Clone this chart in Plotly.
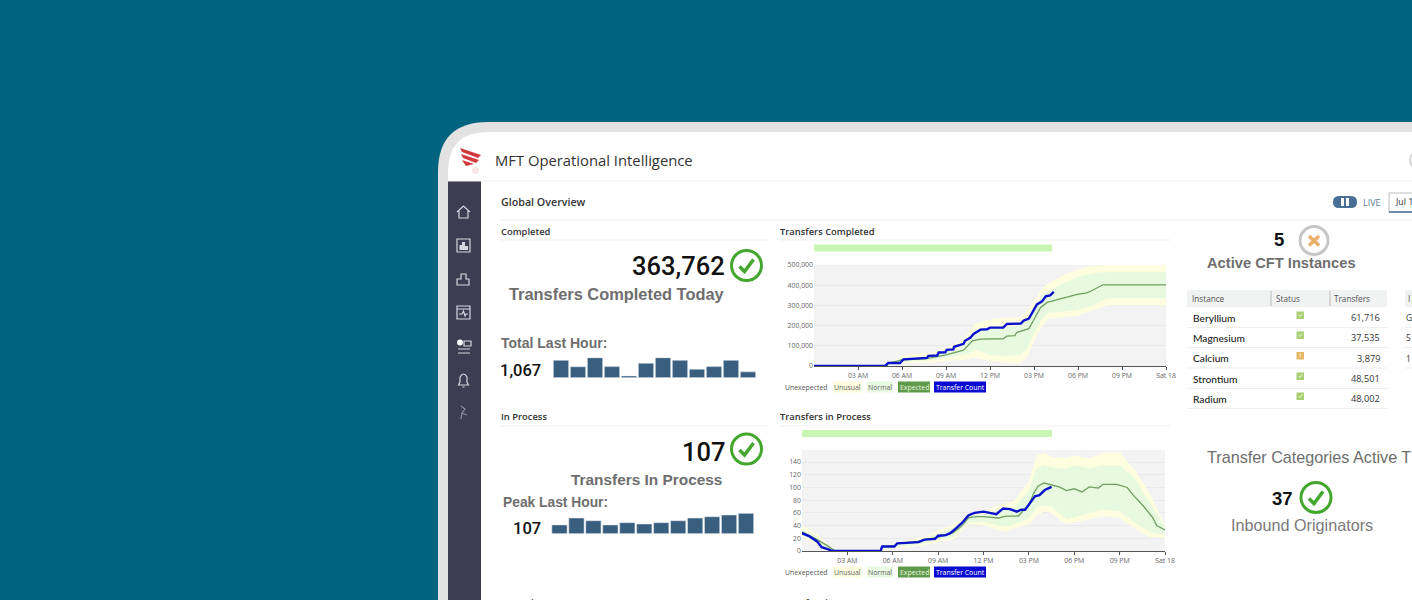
"""MFT Operational Intelligence dashboard, shown in a tablet frame on a teal page."""

import plotly.graph_objects as go

WIDTH = 1412
HEIGHT = 600

TEAL = "#00637f"
FRAME = "#e2e2e2"
SIDEBAR = "#3d3c52"
GREY_TEXT = "#6e6e6e"
DARK_TEXT = "#333333"
CHECK_GREEN = "#43a72e"
BAR_BLUE = "#3a5f7e"
COUNT_BLUE = "#0a12cc"
EXPECTED_GREEN = "#6f9f60"
NORMAL_FILL = "#e7f9df"
UNUSUAL_FILL = "#fefde0"

HOUR_TICKS = [3, 6, 9, 12, 15, 18, 21, 24]
HOUR_LABELS = ["03 AM", "06 AM", "09 AM", "12 PM", "03 PM", "06 PM", "09 PM", "Sat 18"]

# Transfers completed
COMPLETED_COUNT_HOURS = [0, 4.84, 5.06, 5.86, 6.1, 7, 7.7, 7.8, 8.4, 8.5, 8.95, 9.05, 9.5, 9.55, 10, 10.2, 10.3,
                         10.65, 10.9, 11.35, 11.8, 12, 12.9, 13.15, 14.1, 14.3, 14.65, 14.9, 15.2, 15.55, 15.8,
                         16.1, 16.35]
COMPLETED_COUNT = [0, 0, 15000, 15000, 33000, 36000, 40000, 50000, 52000, 67000, 68000, 80000, 82000, 95000,
                   105000, 110000, 125000, 140000, 160000, 180000, 182000, 190000, 190000, 208000, 210000,
                   225000, 235000, 265000, 305000, 320000, 345000, 350000, 367000]
COMPLETED_EXPECTED_HOURS = [0, 4.95, 5.1, 6, 7.6, 8.4, 9, 10.2, 10.5, 10.8, 11.35, 12.9, 13.15, 13.7, 13.8,
                            14.65, 15, 15.45, 15.9, 16.6, 17.3, 17.95, 18.6, 19, 19.7, 24]
COMPLETED_EXPECTED = [0, 0, 15000, 30000, 35000, 47000, 55000, 78000, 100000, 125000, 133000, 135000, 148000,
                      150000, 165000, 185000, 230000, 290000, 315000, 330000, 342000, 355000, 362000, 375000,
                      402000, 402000]
COMPLETED_BAND_HOURS = [4.9, 6, 8, 9, 10, 10.5, 11, 12, 13, 14, 14.5, 15, 15.5, 16, 17, 18, 19, 20, 24]
COMPLETED_NORMAL_HIGH = [0, 40000, 50000, 70000, 90000, 120000, 165000, 185000, 190000, 200000, 220000, 280000,
                         350000, 370000, 410000, 440000, 460000, 465000, 465000]
COMPLETED_NORMAL_LOW = [0, 22000, 28000, 40000, 55000, 60000, 80000, 55000, 50000, 55000, 80000, 160000,
                        230000, 265000, 268000, 280000, 300000, 335000, 335000]
COMPLETED_UNUSUAL_HIGH = [0, 55000, 65000, 90000, 120000, 160000, 210000, 230000, 240000, 240000, 270000,
                          320000, 380000, 410000, 450000, 480000, 495000, 500000, 500000]
COMPLETED_UNUSUAL_LOW = [0, 15000, 15000, 25000, 30000, 35000, 40000, 25000, 15000, 10000, 40000, 120000,
                         190000, 235000, 240000, 250000, 275000, 300000, 300000]

# Transfers in process
PROCESS_COUNT_HOURS = [0, 0.5, 1, 1.3, 1.7, 2, 5.2, 5.3, 6.1, 6.3, 7.7, 8.1, 8.8, 9, 9.5, 9.8, 10.2, 10.65, 11,
                       11.4, 12, 12.85, 13.3, 13.75, 14.2, 14.5, 14.75, 15.05, 15.4, 15.7, 16.05, 16.5]
PROCESS_COUNT = [28, 23, 15, 6, 3, 0, 0, 7, 7, 12, 14, 18, 19, 24, 25, 28, 36, 46, 56, 60, 62, 58, 67, 66, 62,
                 65, 65, 75, 86, 88, 96, 101]
PROCESS_EXPECTED_HOURS = [0, 1, 1.7, 2.2, 5.2, 5.3, 6.1, 6.3, 7.7, 8, 9, 10, 10.5, 11, 11.5, 12, 13, 13.5, 14.3,
                          14.7, 15, 15.3, 15.6, 16, 16.5, 17, 17.5, 18, 18.5, 19, 19.6, 19.9, 20.8, 21.5, 21.9,
                          22.6, 23.2, 23.45, 24]
PROCESS_EXPECTED = [30, 18, 8, 0, 0, 7, 8, 12, 15, 17, 22, 29, 38, 52, 54, 54, 52, 55, 55, 65, 73, 90, 102, 107,
                    104, 101, 95, 98, 93, 101, 99, 105, 105, 100, 88, 70, 52, 40, 33]
PROCESS_BAND_HOURS = [0, 1, 2, 2.3, 5.2, 6, 8, 9, 10, 11, 12, 13, 13.5, 14, 15, 15.5, 16, 16.5, 17, 17.5, 18, 19,
                      20, 21, 22, 23, 24]
PROCESS_NORMAL_HIGH = [34, 22, 2, 0, 0, 10, 19, 28, 37, 54, 58, 65, 66, 68, 95, 130, 135, 132, 130, 130, 135,
                       130, 135, 135, 115, 75, 38]
PROCESS_NORMAL_LOW = [24, 12, 0, 0, 0, 5, 12, 17, 22, 45, 46, 40, 38, 42, 52, 68, 72, 70, 60, 50, 53, 60, 65,
                      62, 45, 30, 25]
PROCESS_UNUSUAL_HIGH = [40, 27, 3, 0, 0, 12, 22, 32, 42, 56, 62, 72, 75, 78, 110, 150, 155, 148, 147, 146, 150,
                        146, 155, 155, 128, 90, 40]
PROCESS_UNUSUAL_LOW = [22, 10, 0, 0, 0, 3, 9, 14, 18, 42, 40, 33, 30, 35, 42, 55, 62, 60, 50, 42, 45, 50, 55,
                       52, 35, 22, 20]

# Five minute bars beside the headline numbers
LAST_HOUR_TOTALS = [119, 75, 137, 76, 12, 99, 137, 119, 58, 76, 119, 40]
LAST_HOUR_PEAKS = [46, 82, 68, 46, 58, 51, 58, 68, 82, 89, 98, 107]

# Instance table
INSTANCES = ["Beryllium", "Magnesium", "Calcium", "Strontium", "Radium"]
INSTANCE_OK = [True, True, False, True, True]
INSTANCE_TRANSFERS = ["61,716", "37,535", "3,879", "48,501", "48,002"]
SECOND_TABLE_CELLS = ["G", "5", "1"]

LEGEND_CHIPS = [
    ("Unexepected", 785, 827, None, "#555555"),
    ("Unusual", 833, 862, "#fdfcdf", "#666666"),
    ("Normal", 867, 893, "#e9f8e2", "#666666"),
    ("Expected", 898, 930, "#5f9a4a", "#e6f4df"),
    ("Transfer Count", 934, 986, "#0a0ad0", "#ffffff"),
]

shapes = []
annotations = []


def label(text, x, y, size, color=DARK_TEXT, anchor="left", family="Open Sans", weight=400, vertical="middle"):
    annotations.append(
        dict(
            text=text,
            x=x - 1 if anchor == "left" else x,
            y=y,
            xref="x",
            yref="y",
            xanchor=anchor,
            yanchor=vertical,
            showarrow=False,
            borderpad=0,
            font=dict(family=family, size=size, color=color, weight=weight),
        )
    )


def rect(x0, y0, x1, y1, fill, line=None, line_width=1):
    shapes.append(
        dict(
            type="rect",
            xref="x",
            yref="y",
            x0=x0,
            y0=y0,
            x1=x1,
            y1=y1,
            fillcolor=fill,
            line=dict(color=line, width=line_width if line else 0),
            layer="below",
        )
    )


def rule(x0, y0, x1, y1, color="#efefef", width=1):
    shapes.append(
        dict(type="line", xref="x", yref="y", x0=x0, y0=y0, x1=x1, y1=y1,
             line=dict(color=color, width=width), layer="below")
    )


def ring(cx, cy, r, color, width=3):
    shapes.append(
        dict(type="circle", xref="x", yref="y", x0=cx - r, y0=cy - r, x1=cx + r, y1=cy + r,
             fillcolor="#ffffff", line=dict(color=color, width=width), layer="below")
    )


def path(d, line=None, fill="rgba(0,0,0,0)", width=1.2):
    shapes.append(
        dict(type="path", xref="x", yref="y", path=d, fillcolor=fill,
             line=dict(color=line, width=width if line else 0), layer="below")
    )


def check_icon(cx, cy, r=15):
    ring(cx, cy, r, CHECK_GREEN)
    path(f"M {cx - 7} {cy + 1} L {cx - 2} {cy + 6} L {cx + 7} {cy - 6}", line=CHECK_GREEN, width=3.5)


def x_domain(left, right):
    return [left / WIDTH, right / WIDTH]


def y_domain(top, bottom):
    return [1 - bottom / HEIGHT, 1 - top / HEIGHT]


def draw_frame():
    path("M 438 600 L 438 172 Q 438 122 488 122 L 1412 122 L 1412 600 Z", fill=FRAME)
    path("M 448 600 L 448 172 Q 448 132 488 132 L 1412 132 L 1412 600 Z", fill="#ffffff")
    rect(448, 181, 481, 600, SIDEBAR)
    rule(448, 181, 1412, 181, "#eeeeee")
    rule(500, 220, 1412, 220, "#eeeeee")

    # Red logo mark
    for d in ["M 460 148 L 481 155 L 478 158 L 462 152 Z",
              "M 461 154 L 479 160 L 476 163 L 463 158 Z",
              "M 462 160 L 474 164 L 466 166 Z"]:
        path(d, fill="#d2393c")
    shapes.append(dict(type="circle", xref="x", yref="y", x0=472, y0=167, x1=479, y1=174,
                       fillcolor="#f8e6e6", line=dict(width=0), layer="below"))

    # Sidebar icons
    icon = "#d6d6de"
    path("M 457 212 L 463.5 206 L 470 212 M 459 211 L 459 218 L 468 218 L 468 211", line=icon)
    path("M 457 239 L 470 239 L 470 252 L 457 252 Z", line=icon)
    path("M 459.5 250 L 459.5 245 L 462 245 L 462 242 L 465 242 L 465 246 L 468 246 L 468 250 Z", fill=icon)
    path("M 457 279 L 461 279 L 461 274 L 466 274 L 466 279 L 469 279 L 469 285 L 457 285 Z", line=icon)
    path("M 457 306 L 470 306 L 470 319 L 457 319 Z M 457 309 L 470 309", line=icon)
    path("M 459 314 L 462 314 L 463.5 311 L 465 316 L 466 314 L 468 314", line=icon)
    shapes.append(dict(type="circle", xref="x", yref="y", x0=457, y0=339.5, x1=463, y1=345.5,
                       fillcolor="#ffffff", line=dict(width=0), layer="below"))
    path("M 464 341 L 471 341 L 471 346 L 464 346 Z M 458 349 L 470 349 M 458 353 L 470 353", line=icon)
    path("M 458.5 385 L 468.5 385 L 467 382 L 467 377 Q 463.5 371 460 377 L 460 382 Z M 462.5 387 L 464.5 387",
         line=icon)
    path("M 461 406 L 465 409 L 462 413 L 467 415 M 462 413 L 461 419", line="#8f8fa0")


def draw_top_bar():
    label("MFT Operational Intelligence", 495, 159.5, 14.8)
    label("Global Overview", 501, 202, 10.7, weight=600)
    shapes.append(dict(type="circle", xref="x", yref="y", x0=1410, y0=150, x1=1432, y1=170,
                       fillcolor="#ffffff", line=dict(color="#c8c8c8", width=1.5), layer="below"))
    path("M 1339 196 L 1351 196 Q 1357 196 1357 202 Q 1357 208 1351 208 L 1339 208 "
         "Q 1333 208 1333 202 Q 1333 196 1339 196 Z", fill="#4a6f96")
    rect(1341, 198, 1344, 206, "#ffffff")
    rect(1346, 198, 1349, 206, "#ffffff")
    label("LIVE", 1363, 202, 9, color="#5a7a9a")
    rect(1389, 193, 1420, 212, "#ffffff", line="#bcbcbc")
    rule(1389, 212, 1412, 212, "#4a6f96", 1.5)
    label("Jul 1", 1395, 202, 8.8)


def draw_left_panels():
    label("Completed", 501, 231, 9.4, weight=600)
    rule(500, 240, 768, 240)
    label("363,762", 725.5, 265.5, 25.5, color="#111111", anchor="right", family="Roboto", weight=500)
    check_icon(746.5, 265.5)
    label("Transfers Completed Today", 509, 293.5, 16.4, color=GREY_TEXT, family="Liberation Sans", weight=700)
    label("Total Last Hour:", 501, 343, 14, color=GREY_TEXT, family="Liberation Sans", weight=700)
    label("1,067", 500, 370, 16.5, color="#111111", family="Roboto", weight=500)

    label("In Process", 501, 416.5, 9.4, weight=600)
    rule(500, 426, 768, 426)
    label("107", 725.5, 451.5, 25.5, color="#111111", anchor="right", family="Roboto", weight=500)
    check_icon(746.5, 449)
    label("Transfers In Process", 723, 479, 15.4, color=GREY_TEXT, anchor="right",
          family="Liberation Sans", weight=700)
    label("Peak Last Hour:", 503, 502, 13.8, color=GREY_TEXT, family="Liberation Sans", weight=700)
    label("107", 513, 528.5, 16.5, color="#111111", family="Roboto", weight=500)
    label("Exceptions", 501, 594.5, 9.4, weight=600, vertical="top")


def draw_chart_furniture():
    label("Transfers Completed", 780, 231, 9.4, weight=600)
    rule(780, 240, 1170, 240)
    rect(814, 244.5, 1052, 251.5, "#c9f7b3")
    rect(814, 265, 1166, 366, "#f3f3f3")

    label("Transfers in Process", 780, 416.5, 9.4, weight=600)
    rule(780, 426, 1170, 426)
    rect(802, 430, 1052, 437, "#c9f7b3")
    rect(802, 450, 1165, 551, "#f3f3f3")
    label("Transfers in error", 780, 594.5, 9.4, weight=600, vertical="top")

    for centre_y in (387, 572):
        for text, left, right, fill, color in LEGEND_CHIPS:
            if fill:
                rect(left, centre_y - 5.5, right, centre_y + 5.5, fill)
            label(text, (left + right) / 2, centre_y, 6.9, color=color, anchor="center")


def draw_right_panel():
    label("5", 1279, 239, 18.5, color="#111111", anchor="center", family="Liberation Sans", weight=700)
    ring(1314, 240.5, 14, "#c6c6c6")
    path("M 1309 236 L 1319 245.5 M 1319 236 L 1309 245.5", line="#ebaf6a", width=3.5)
    label("Active CFT Instances", 1281, 263, 14.7, color=GREY_TEXT, anchor="center",
          family="Liberation Sans", weight=700)

    rect(1187, 290, 1387, 307, "#f1f2f2")
    rect(1405, 290, 1412, 307, "#f1f2f2")
    rule(1271, 291, 1271, 306, "#bbbbbb")
    rule(1330, 291, 1330, 306, "#bbbbbb")
    label("Instance", 1192, 298.5, 8.2, color="#555555")
    label("Status", 1276, 298.5, 8.2, color="#555555")
    label("Transfers", 1334, 298.5, 8.2, color="#555555")
    label("I", 1408, 298.5, 8.2, color="#555555")

    row_y = [317.5, 337.5, 358, 378.5, 398.5]
    for name, healthy, transfers, y in zip(INSTANCES, INSTANCE_OK, INSTANCE_TRANSFERS, row_y):
        label(name, 1193, y, 10.2, color="#222222", family="Lato", weight=500)
        label(transfers, 1381, y, 9.2, color="#333333", anchor="right")
        rect(1296.5, y - 6, 1304, y + 1.5, "#a8cf72" if healthy else "#e5b867")
        if healthy:
            path(f"M 1298.5 {y - 2.5} L 1300 {y - 1} L 1302.5 {y - 4}", line="#eef6de", width=1)
        else:
            rule(1300.2, y - 4.5, 1300.2, y - 1, "#fbf1dc", 1)
        rule(1187, y + 10, 1387, y + 10)
    for cell, y in zip(SECOND_TABLE_CELLS, row_y):
        label(cell, 1406, y, 8.4, color="#333333")
        rule(1405, y + 10, 1412, y + 10)

    label("Transfer Categories Active T", 1207, 457, 16.2, color=GREY_TEXT, family="Liberation Sans")
    label("37", 1282, 498, 18.5, color="#111111", anchor="center", family="Liberation Sans", weight=700)
    check_icon(1316, 497.5)
    label("Inbound Originators", 1302, 525, 16.2, color="#7a7a7a", anchor="center", family="Liberation Sans")


def band(hours, high, low, color, xaxis, yaxis):
    return go.Scatter(
        x=hours + hours[::-1],
        y=high + low[::-1],
        fill="toself",
        fillcolor=color,
        mode="none",
        hoverinfo="skip",
        xaxis=xaxis,
        yaxis=yaxis,
    )


def add_time_chart(fig, xaxis, yaxis, band_hours, unusual, normal, expected, count):
    fig.add_trace(band(band_hours, unusual[0], unusual[1], UNUSUAL_FILL, xaxis, yaxis))
    fig.add_trace(band(band_hours, normal[0], normal[1], NORMAL_FILL, xaxis, yaxis))
    fig.add_trace(go.Scatter(x=expected[0], y=expected[1], mode="lines", xaxis=xaxis, yaxis=yaxis,
                             line=dict(color=EXPECTED_GREEN, width=1.3)))
    fig.add_trace(go.Scatter(x=count[0], y=count[1], mode="lines", xaxis=xaxis, yaxis=yaxis,
                             line=dict(color=COUNT_BLUE, width=2.4)))


def time_axes(left, right, top, bottom, y_range, y_ticks, y_labels):
    tick_font = dict(family="Open Sans", size=6.9, color="#666666")
    x_axis = dict(
        domain=x_domain(left, right),
        range=[0, 24],
        tickvals=HOUR_TICKS,
        ticktext=HOUR_LABELS,
        tickfont=tick_font,
        ticks="outside",
        ticklen=3,
        tickcolor="#555555",
        showgrid=False,
        zeroline=False,
        showline=True,
        linecolor="#555555",
        automargin=False,
        fixedrange=True,
    )
    y_axis = dict(
        domain=y_domain(top, bottom),
        range=y_range,
        tickvals=y_ticks,
        ticktext=y_labels,
        tickfont=tick_font,
        ticks="",
        gridcolor="#e9e9e9",
        zeroline=False,
        showline=False,
        automargin=False,
        fixedrange=True,
    )
    return x_axis, y_axis


def bar_axes(left, right, top, bottom, peak):
    x_axis = dict(domain=x_domain(left, right), range=[-0.5, 11.5], visible=False, automargin=False, fixedrange=True)
    y_axis = dict(domain=y_domain(top, bottom), range=[0, peak], visible=False, automargin=False, fixedrange=True)
    return x_axis, y_axis


draw_frame()
draw_top_bar()
draw_left_panels()
draw_chart_furniture()
draw_right_panel()

fig = go.Figure()

# First trace keeps the full page pixel axes alive for the frame shapes and texts.
fig.add_trace(go.Scatter(x=[0], y=[0], mode="none", hoverinfo="skip", xaxis="x", yaxis="y"))

fig.add_trace(go.Bar(x=list(range(12)), y=LAST_HOUR_TOTALS, marker_color=BAR_BLUE, xaxis="x2", yaxis="y2"))
fig.add_trace(go.Bar(x=list(range(12)), y=LAST_HOUR_PEAKS, marker_color=BAR_BLUE, xaxis="x3", yaxis="y3"))

add_time_chart(
    fig, "x4", "y4", COMPLETED_BAND_HOURS,
    (COMPLETED_UNUSUAL_HIGH, COMPLETED_UNUSUAL_LOW),
    (COMPLETED_NORMAL_HIGH, COMPLETED_NORMAL_LOW),
    (COMPLETED_EXPECTED_HOURS, COMPLETED_EXPECTED),
    (COMPLETED_COUNT_HOURS, COMPLETED_COUNT),
)
add_time_chart(
    fig, "x5", "y5", PROCESS_BAND_HOURS,
    (PROCESS_UNUSUAL_HIGH, PROCESS_UNUSUAL_LOW),
    (PROCESS_NORMAL_HIGH, PROCESS_NORMAL_LOW),
    (PROCESS_EXPECTED_HOURS, PROCESS_EXPECTED),
    (PROCESS_COUNT_HOURS, PROCESS_COUNT),
)

x2, y2 = bar_axes(552.5, 756.5, 357.7, 377.7, max(LAST_HOUR_TOTALS))
x3, y3 = bar_axes(551, 754.5, 513.3, 533.7, max(LAST_HOUR_PEAKS))
x4, y4 = time_axes(
    814, 1166, 265, 366, [0, 500000],
    [0, 100000, 200000, 300000, 400000, 500000],
    ["0", "100,000", "200,000", "300,000", "400,000", "500,000"],
)
x5, y5 = time_axes(
    802, 1165, 450, 551, [0, 159],
    [0, 20, 40, 60, 80, 100, 120, 140],
    ["0", "20", "40", "60", "80", "100", "120", "140"],
)

fig.update_layout(
    width=WIDTH,
    height=HEIGHT,
    margin=dict(l=0, r=0, t=0, b=0),
    paper_bgcolor=TEAL,
    plot_bgcolor="rgba(0,0,0,0)",
    showlegend=False,
    bargap=0.1,
    shapes=shapes,
    annotations=annotations,
    xaxis=dict(domain=[0, 1], range=[0, WIDTH], visible=False, automargin=False, fixedrange=True),
    yaxis=dict(domain=[0, 1], range=[HEIGHT, 0], visible=False, automargin=False, fixedrange=True),
    xaxis2=dict(x2, anchor="y2"),
    yaxis2=dict(y2, anchor="x2"),
    xaxis3=dict(x3, anchor="y3"),
    yaxis3=dict(y3, anchor="x3"),
    xaxis4=dict(x4, anchor="y4"),
    yaxis4=dict(y4, anchor="x4"),
    xaxis5=dict(x5, anchor="y5"),
    yaxis5=dict(y5, anchor="x5"),
)

fig.write_html(
    "out.html",
    config={"displayModeBar": False},
    post_script="document.body.style.margin='0';document.documentElement.style.overflow='hidden';",
)
